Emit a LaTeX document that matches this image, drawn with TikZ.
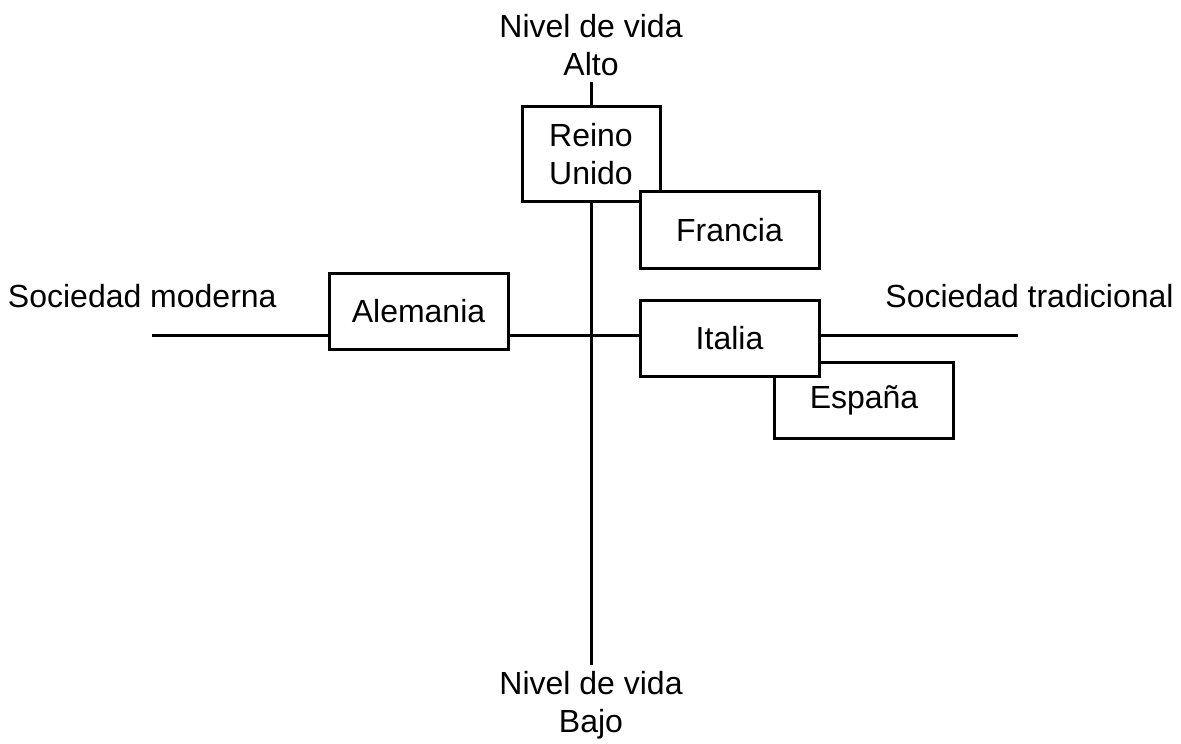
\documentclass[tikz,border=0pt]{standalone}
\usepackage{fontspec}
\setmainfont{Liberation Sans}
\usepackage{tikz}
\usetikzlibrary{positioning}

\begin{document}
\begin{tikzpicture}[
      x=0.5pt, y=-0.5pt,
      font=\fontsize{16}{19}\selectfont,
      box/.style = {draw, line width=1.5pt, fill=white, align=center,
                    minimum width=89.5pt, minimum height=38pt, inner sep=0pt},
      axis/.style = {line width=1.5pt},
      lbl/.style = {align=center, inner sep=0pt},
    ]
    \useasboundingbox (0,0) rectangle (1181,743);

    % axes
    \coordinate (ytop)   at (591,82);
    \coordinate (ybot)   at (591,665);
    \coordinate (xleft)  at (152,335);
    \coordinate (xright) at (1018,335);
    \draw[axis] (ytop) -- (ybot);
    \draw[axis] (xleft) -- (xright);

    % axis labels
    \node[lbl] (alto) at (591,45) {Nivel de vida\\Alto};
    \node[lbl] (bajo) at (591,705) {Nivel de vida\\Bajo};
    \node[lbl, anchor=east] (moderna) at (277,296) {Sociedad moderna};
    \node[lbl, anchor=west] (tradicional) at (885,296) {Sociedad tradicional};

    % countries
    \node[box, minimum width=69pt, minimum height=47.5pt] (UK) at (591,154.5) {Reino\\Unido};
    \node[box] (FR) at (729.5,230) {Francia};
    \node[box] (DE) at (418.5,311) {Alemania};
    \node[box] (ES) at (864,400.5) {España};
    \node[box] (IT) at (729.5,338) {Italia};
  \end{tikzpicture}
\end{document}
